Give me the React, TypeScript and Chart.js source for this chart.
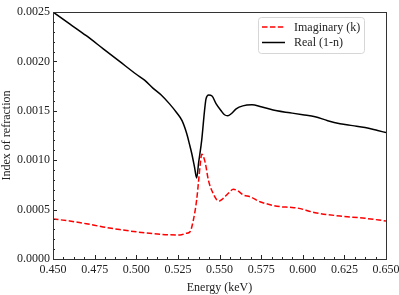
import { useEffect, useRef } from "react";
import { Chart, registerables } from "chart.js";

Chart.register(...registerables);

const realEnergy = [
  0.45, 0.46, 0.47, 0.48, 0.49, 0.5, 0.505, 0.51, 0.515, 0.52, 0.5243, 0.5275,
  0.5303, 0.532, 0.5333, 0.535, 0.5363, 0.5375, 0.5393, 0.541, 0.5419, 0.5435,
  0.5455, 0.548, 0.551, 0.553, 0.555, 0.557, 0.56, 0.564, 0.5695, 0.575, 0.5845,
  0.5923, 0.6, 0.6074, 0.615, 0.6224, 0.63, 0.6374, 0.645, 0.65,
];
const realValues = [
  0.0025, 0.00238, 0.00226, 0.00213, 0.002, 0.00187, 0.00181, 0.00173, 0.00166,
  0.00157, 0.00148, 0.0014, 0.00127, 0.00116, 0.00107, 0.00093, 0.00082, 0.00098,
  0.0012, 0.0015, 0.00162, 0.00166, 0.00165, 0.00157, 0.0015, 0.00146, 0.00145,
  0.00147, 0.00152, 0.00155, 0.00156, 0.00154, 0.0015, 0.00148, 0.00146, 0.00144,
  0.0014, 0.00137, 0.00135, 0.00133, 0.0013, 0.00128,
];
const imagEnergy = [
  0.45, 0.46, 0.47, 0.48, 0.49, 0.5, 0.51, 0.52, 0.5263, 0.53, 0.5323, 0.5343,
  0.5363, 0.5375, 0.5385, 0.5393, 0.54, 0.5415, 0.5433, 0.546, 0.5483, 0.5499,
  0.552, 0.555, 0.5583, 0.561, 0.5643, 0.5683, 0.5743, 0.5863, 0.5923, 0.597,
  0.6074, 0.6224, 0.6374, 0.65,
];
const imagValues = [
  0.000405, 0.000385, 0.000357, 0.000325, 0.000298, 0.000275, 0.000257, 0.000245,
  0.000243, 0.00026, 0.000276, 0.000395, 0.0006, 0.0008, 0.00097, 0.00106, 0.00105,
  0.00097, 0.0008, 0.00067, 0.0006, 0.000587, 0.00061, 0.00066, 0.000705, 0.00069,
  0.000648, 0.00063, 0.00058, 0.00053, 0.000523, 0.000515, 0.000469, 0.000435,
  0.000412, 0.000385,
];
const seriesLabels = ["Imaginary (k)", "Real (1-n)"];
const xMajorStep = 0.025;
const xMinorStep = 0.00625;
const yMajorStep = 0.0005;
const yMinorStep = 0.0001;
const xRange = [0.45, 0.65];
const yRange = [0, 0.0025];

const FONT = "'Liberation Serif', 'DejaVu Serif', serif";

const framePlugin = {
  id: "frameTicks",
  afterDraw(chart: any) {
    const { ctx, chartArea } = chart;
    const xs = chart.scales.x;
    const ys = chart.scales.y;
    const { left, right, top, bottom } = chartArea;
    ctx.save();
    ctx.strokeStyle = "#222";
    ctx.lineWidth = 1;
    ctx.beginPath();
    const nx = Math.round((xRange[1] - xRange[0]) / xMinorStep);
    for (let i = 0; i <= nx; i++) {
      const v = xRange[0] + i * xMinorStep;
      const px = Math.round(xs.getPixelForValue(v)) + 0.5;
      const major = i % 4 === 0;
      ctx.moveTo(px, bottom);
      ctx.lineTo(px, bottom - (major ? 4 : 2));
    }
    const ny = Math.round((yRange[1] - yRange[0]) / yMinorStep);
    for (let i = 0; i <= ny; i++) {
      const v = yRange[0] + i * yMinorStep;
      const py = Math.round(ys.getPixelForValue(v)) + 0.5;
      const major = i % 5 === 0;
      ctx.moveTo(left, py);
      ctx.lineTo(left + (major ? 4 : 2), py);
    }
    ctx.stroke();
    ctx.strokeStyle = "#333";
    ctx.strokeRect(Math.round(left) + 0.5, Math.round(top) + 0.5, Math.round(right - left), Math.round(bottom - top));
    const bx = 258.5, by = 17.5, bw = 106, bh = 36, r = 3;
    ctx.fillStyle = "rgba(255,255,255,0.8)";
    ctx.strokeStyle = "#d6d6d6";
    ctx.beginPath();
    ctx.moveTo(bx + r, by);
    ctx.lineTo(bx + bw - r, by);
    ctx.arcTo(bx + bw, by, bx + bw, by + r, r);
    ctx.lineTo(bx + bw, by + bh - r);
    ctx.arcTo(bx + bw, by + bh, bx + bw - r, by + bh, r);
    ctx.lineTo(bx + r, by + bh);
    ctx.arcTo(bx, by + bh, bx, by + bh - r, r);
    ctx.lineTo(bx, by + r);
    ctx.arcTo(bx, by, bx + r, by, r);
    ctx.closePath();
    ctx.fill();
    ctx.stroke();
    const entries = [
      { label: chart.data.datasets[0].label, color: "#ff0000", dash: [5.5, 2.4], y: 27 },
      { label: chart.data.datasets[1].label, color: "#000000", dash: [], y: 42.5 },
    ];
    ctx.font = `12px ${FONT}`;
    ctx.textBaseline = "middle";
    ctx.textAlign = "left";
    for (const e of entries) {
      ctx.beginPath();
      ctx.setLineDash(e.dash);
      ctx.strokeStyle = e.color;
      ctx.lineWidth = 1.5;
      ctx.moveTo(262, e.y);
      ctx.lineTo(285, e.y);
      ctx.stroke();
      ctx.setLineDash([]);
      ctx.fillStyle = "#222";
      ctx.fillText(e.label, 294, e.y + 0.5);
    }
    ctx.restore();
  },
};

export default function App() {
  const ref = useRef<HTMLCanvasElement | null>(null);
  useEffect(() => {
    if (!ref.current) return;
    const chart = new Chart(ref.current, {
      type: "line",
      data: {
        datasets: [
          {
            label: seriesLabels[0],
            data: imagEnergy.map((x, i) => ({ x, y: imagValues[i] })),
            borderColor: "#ff0000",
            borderWidth: 1.5,
            borderDash: [5.5, 2.4],
            pointRadius: 0,
            cubicInterpolationMode: "monotone",
            fill: false,
          },
          {
            label: seriesLabels[1],
            data: realEnergy.map((x, i) => ({ x, y: realValues[i] })),
            borderColor: "#000000",
            borderWidth: 1.5,
            pointRadius: 0,
            cubicInterpolationMode: "monotone",
            fill: false,
          },
        ],
      },
      options: {
        animation: false,
        responsive: true,
        maintainAspectRatio: false,
        layout: { padding: { top: 12, right: 13, left: 0, bottom: 0 } },
        plugins: { legend: { display: false }, tooltip: { enabled: false } },
        scales: {
          x: {
            type: "linear",
            min: xRange[0],
            max: xRange[1],
            grid: { display: false, drawTicks: false },
            border: { display: false },
            ticks: {
              stepSize: xMajorStep,
              padding: 4,
              color: "#222",
              font: { family: FONT, size: 12 },
              callback: (v: any) => Number(v).toFixed(3),
              maxRotation: 0,
              autoSkip: false,
            },
            title: {
              display: true,
              text: "Energy (keV)",
              color: "#222",
              font: { family: FONT, size: 12 },
              padding: { top: 0, bottom: 0 },
            },
            afterFit: (s: any) => {
              s.height = 36;
              s.paddingRight = 0;
              s.paddingLeft = 0;
            },
          },
          y: {
            type: "linear",
            min: yRange[0],
            max: yRange[1],
            grid: { display: false, drawTicks: false },
            border: { display: false },
            ticks: {
              stepSize: yMajorStep,
              padding: 3,
              color: "#222",
              font: { family: FONT, size: 12 },
              callback: (v: any) => Number(v).toFixed(4),
              autoSkip: false,
            },
            title: {
              display: true,
              text: "Index of refraction",
              color: "#222",
              font: { family: FONT, size: 12 },
              padding: { top: 0, bottom: 0 },
            },
            afterFit: (s: any) => {
              s.width = 53;
              s.paddingTop = 0;
              s.paddingBottom = 0;
            },
          },
        },
      },
      plugins: [framePlugin],
    });
    return () => chart.destroy();
  }, []);
  return (
    <div style={{ position: "absolute", left: 0, top: 0, width: 399, height: 295, background: "#fff" }}>
      <canvas ref={ref} />
    </div>
  );
}
